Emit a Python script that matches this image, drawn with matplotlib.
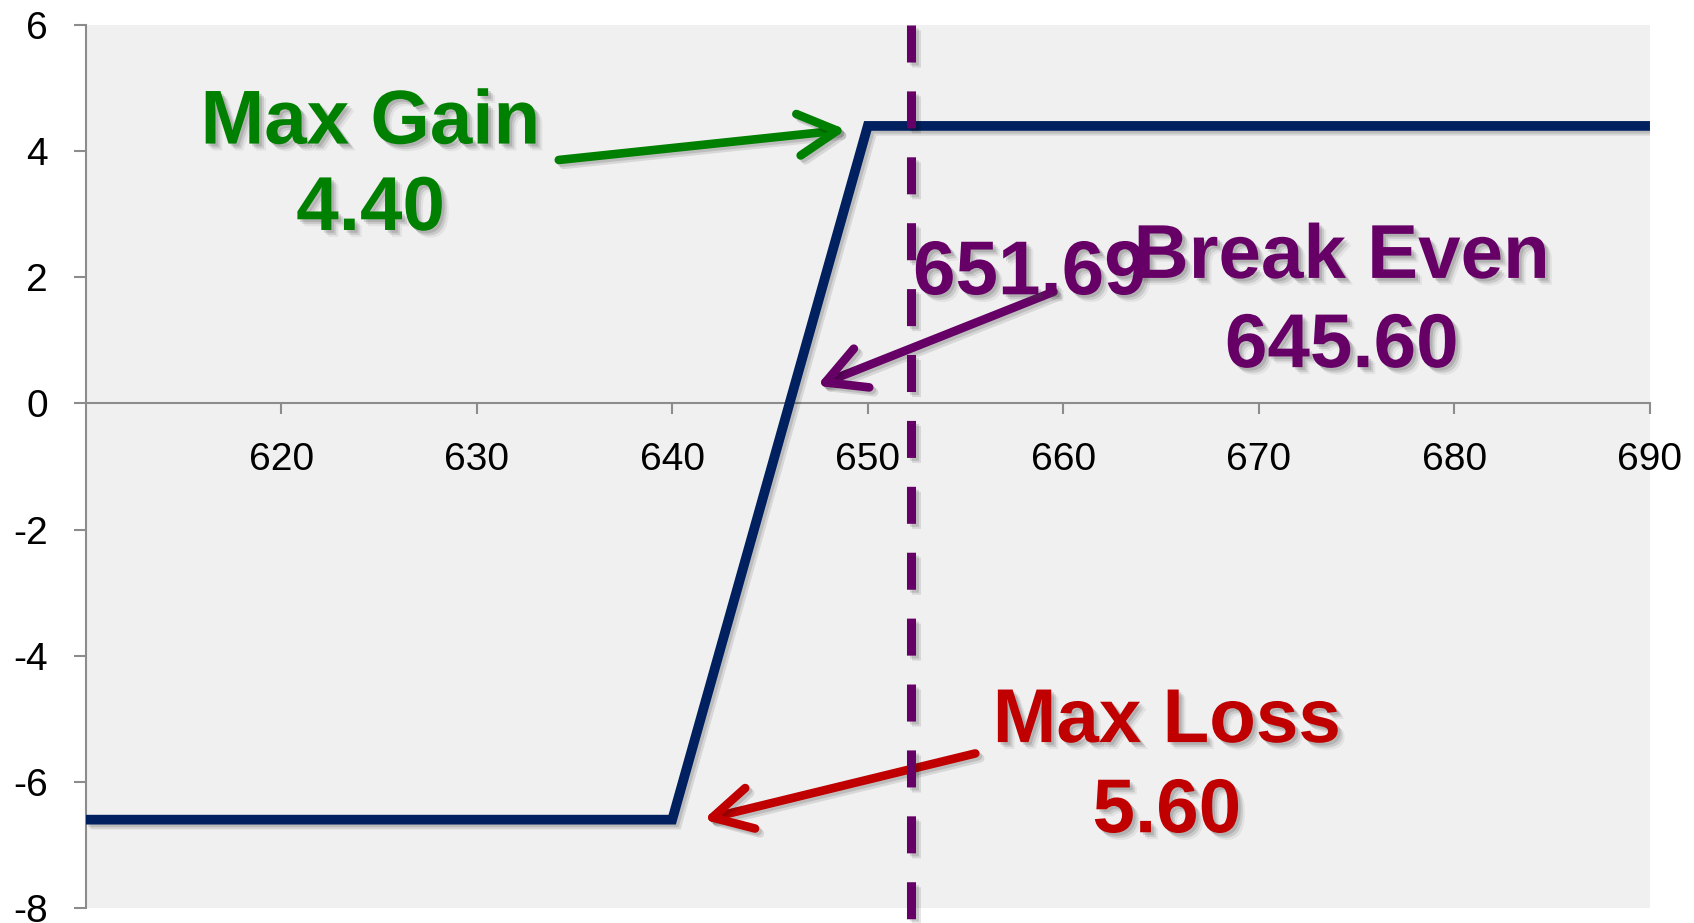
import matplotlib
matplotlib.use("Agg")
import matplotlib.pyplot as plt
import matplotlib.patheffects as pe
from matplotlib.patches import FancyArrowPatch

plt.rcParams['font.family'] = ['Liberation Sans', 'DejaVu Sans']
plt.rcParams['axes.unicode_minus'] = False

# ---- data ----
underlying_price = [610, 640, 650, 690]
profit_loss = [-6.6, -6.6, 4.4, 4.4]
dashed_line_x = 652.2
x_ticks = [620, 630, 640, 650, 660, 670, 680, 690]
y_ticks = [-8, -6, -4, -2, 0, 2, 4, 6]

max_gain_label = ["Max Gain", "4.40"]
break_even_label = ["Break Even", "645.60"]
dashed_label = "651.69"
max_loss_label = ["Max Loss", "5.60"]

NAVY = "#002060"
GREEN = "#008000"
RED = "#C00000"
PURPLE = "#660066"
AXIS_GRAY = "#8c8c8c"

fig = plt.figure(figsize=(16.94, 9.23), dpi=100)
ax = fig.add_axes([0.0505, 0.0163, 0.9235, 0.9566])
ax.set_facecolor("#f0f0f0")
ax.set_xlim(610, 690)
ax.set_ylim(-8, 6)

for s in ['top', 'right']:
    ax.spines[s].set_visible(False)
ax.spines['bottom'].set_position(('data', 0))
for s in ['left', 'bottom']:
    ax.spines[s].set_color(AXIS_GRAY)
    ax.spines[s].set_linewidth(1.5)

ax.set_xticks(x_ticks)
ax.set_xticklabels([str(v) for v in x_ticks])
ax.set_yticks(y_ticks)
ax.set_yticklabels([str(v) for v in y_ticks])
ax.tick_params(axis='x', direction='out', length=8, width=1.5, color=AXIS_GRAY,
               labelsize=28, pad=20)
ax.tick_params(axis='y', direction='out', length=9, width=1.5, color=AXIS_GRAY,
               labelsize=28, pad=18)

line_shadow = [pe.SimpleLineShadow(offset=(2, -2), shadow_color='k', alpha=0.12),
               pe.SimpleLineShadow(offset=(3.5, -3.5), shadow_color='k', alpha=0.10),
               pe.Normal()]
text_shadow = [pe.SimplePatchShadow(offset=(2, -2), shadow_rgbFace='#444444', alpha=0.18),
               pe.SimplePatchShadow(offset=(3.5, -3.5), shadow_rgbFace='#444444', alpha=0.15),
               pe.SimplePatchShadow(offset=(5, -5), shadow_rgbFace='#444444', alpha=0.08),
               pe.Normal()]

# payoff line
ax.plot(underlying_price, profit_loss, color=NAVY, lw=7, solid_joinstyle='miter',
        solid_capstyle='butt', path_effects=line_shadow, zorder=3)

# arrows
def arrow(tail, tip, color):
    a = FancyArrowPatch(tail, tip, arrowstyle='->,head_length=1.4,head_width=0.75',
                        mutation_scale=20, lw=6.2, color=color, capstyle='round',
                        joinstyle='round', shrinkA=0, shrinkB=0, zorder=4,
                        path_effects=line_shadow)
    ax.add_patch(a)

arrow((634.2, 3.86), (648.9, 4.34), GREEN)
arrow((659.5, 1.77), (647.4, 0.28), PURPLE)
arrow((655.5, -5.55), (641.6, -6.6), RED)

# dashed vertical line
ax.plot([dashed_line_x, dashed_line_x], [6, -8.17], color=PURPLE, lw=6.5,
        linestyle=(0, (4.1, 3.2)), dash_capstyle='butt', clip_on=False,
        path_effects=line_shadow, zorder=5)

# labels
tkw = dict(fontsize=55, fontweight='bold', ha='center', va='baseline',
           path_effects=text_shadow, zorder=6)
ax.text(624.57, 4.12, max_gain_label[0], color=GREEN, **tkw)
ax.text(624.57, 2.75, max_gain_label[1], color=GREEN, **tkw)
ax.text(658.28, 1.73, dashed_label, color=PURPLE, **tkw)
ax.text(674.23, 1.99, break_even_label[0], color=PURPLE, **tkw)
ax.text(674.23, 0.575, break_even_label[1], color=PURPLE, **tkw)
ax.text(665.29, -5.37, max_loss_label[0], color=RED, **tkw)
ax.text(665.29, -6.80, max_loss_label[1], color=RED, **tkw)

fig.savefig("out.png", dpi=100)
